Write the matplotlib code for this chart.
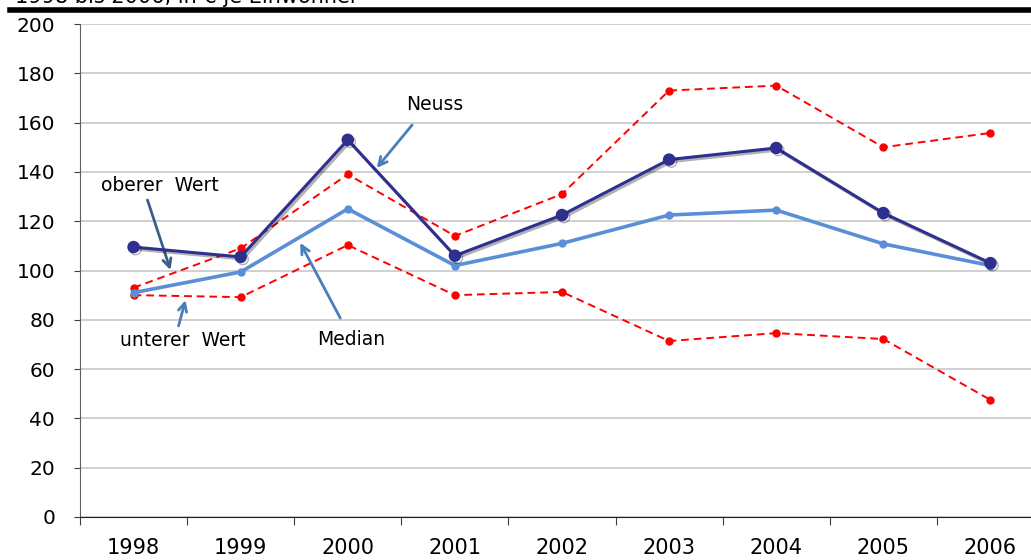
import matplotlib.pyplot as plt
import matplotlib.patheffects as pe

years = ["1998", "1999", "2000", "2001", "2002", "2003", "2004", "2005", "2006"]
neuss = [109.5, 105.5, 153, 106, 122.5, 145, 149.7, 123.3, 103]
median = [91, 99.4, 125, 102, 111, 122.5, 124.5, 110.8, 102]
oberer = [93, 109, 139, 114, 131, 173, 175, 150, 155.8]
unterer = [90, 89.2, 110.3, 90, 91.3, 71.4, 74.6, 72.2, 47.5]

fig = plt.figure(figsize=(10.31, 5.6), dpi=100)
ax = fig.add_axes([80 / 1031, 1 - 517 / 560, 964 / 1031, 493 / 560])

x = list(range(len(years)))

ax.plot(x, oberer, color="#FF0000", lw=1.4, ls=(0, (4, 2.5)), marker="o", ms=5, zorder=3)
ax.plot(x, unterer, color="#FF0000", lw=1.4, ls=(0, (4, 2.5)), marker="o", ms=5, zorder=3)
ax.plot(x, median, color="#5A8FD8", lw=2.6, marker="o", ms=5, zorder=4)
ax.plot(x, neuss, color="#2E2F8E", lw=2.2, marker="o", ms=8, zorder=5,
        path_effects=[pe.SimpleLineShadow(offset=(1.5, -1.5), shadow_color="black", alpha=0.3),
                      pe.Normal()])

ax.set_ylim(0, 200)
ax.set_yticks(range(0, 201, 20))
ax.set_xlim(-0.5, len(years) - 0.5)
ax.set_xticks([i - 0.5 for i in range(len(years) + 1)])
ax.set_xticklabels([])
ax.set_xticks(x, minor=True)
ax.set_xticklabels(years, minor=True)
ax.tick_params(axis="x", which="minor", length=0, pad=15, labelsize=15)
ax.tick_params(axis="x", which="major", length=6, color="#404040", direction="out")
ax.tick_params(axis="y", length=4, color="#404040", labelsize=14.5, pad=14)
ax.grid(axis="y", color="#C8C8C8", lw=1.2)
ax.set_axisbelow(True)
for s in ["top", "right"]:
    ax.spines[s].set_visible(False)
ax.spines["left"].set_color("#606060")
ax.spines["bottom"].set_color("#202020")

# labels
ax.text(2.81, 167.5, "Neuss", fontsize=13.5, ha="center", va="center")
ax.text(0.25, 134.3, "oberer  Wert", fontsize=13.5, ha="center", va="center")
ax.text(0.457, 71.4, "unterer  Wert", fontsize=13.5, ha="center", va="center")
ax.text(2.03, 72.2, "Median", fontsize=13.5, ha="center", va="center")

# arrows
arrows = [
    ((2.60, 159), (2.27, 141.6), "#4A7EBB"),
    ((0.13, 128.6), (0.345, 100.2), "#3A5F8A"),
    ((0.42, 77.5), (0.485, 88), "#4A7EBB"),
    ((1.93, 80.7), (1.556, 111.2), "#4A7EBB"),
]
for start, end, col in arrows:
    ax.annotate("", xy=end, xytext=start,
                arrowprops=dict(arrowstyle="->,head_length=0.6,head_width=0.3", color=col, lw=2,
                                shrinkA=0, shrinkB=0))

fig.add_artist(plt.Line2D([10 / 1031, 1], [1 - 10 / 560, 1 - 10 / 560], color="black", lw=4))
fig.text(15 / 1031, 1 + 3 / 560, "1998 bis 2006, in € je Einwohner", fontsize=15, va="center", ha="left")

fig.savefig("out.png", dpi=100)
